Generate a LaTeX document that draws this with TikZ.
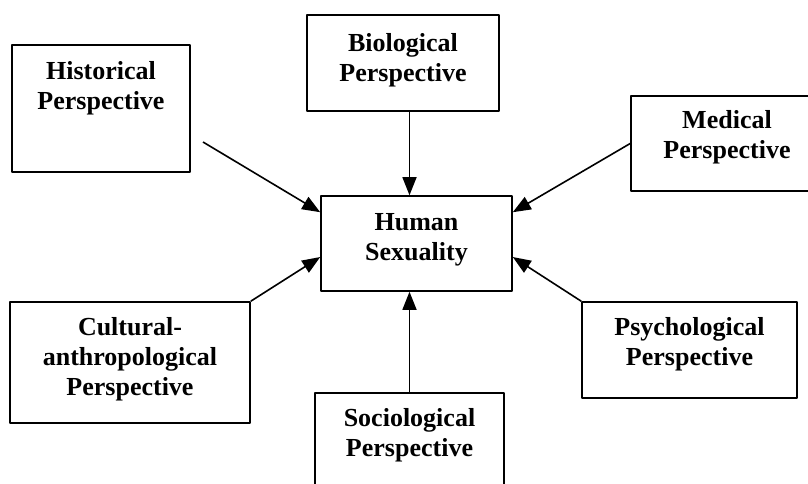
\documentclass[tikz,border=0pt]{standalone}
\usepackage{fontspec}
\setmainfont{Liberation Serif}
\usetikzlibrary{arrows.meta}
\begin{document}
\begin{tikzpicture}[x=1pt,y=-1pt,line join=round,>={Triangle[length=18pt,width=14pt]},
  box/.style={draw,line width=1.6pt,inner sep=0pt},
  txt/.style={inner sep=0pt,align=center,font=\fontsize{26}{30}\selectfont\bfseries},
  arr/.style={->,line width=1.6pt}]
\useasboundingbox (0,0) rectangle (808,484);
\node[box,minimum width=178pt,minimum height=127pt] (hist) at (101,108.5) {};
\node[box,minimum width=192pt,minimum height=96pt] (bio) at (403,63) {};
\node[box,minimum width=192pt,minimum height=95pt] (medical) at (727,143.5) {};
\node[box,minimum width=191pt,minimum height=95pt] (human) at (416.5,243.5) {};
\node[box,minimum width=240pt,minimum height=121pt] (cultural) at (130,362.5) {};
\node[box,minimum width=215pt,minimum height=96pt] (psych) at (689.5,350) {};
\node[box,minimum width=189pt,minimum height=100pt] (socio) at (409.5,443) {};
\node[txt] (histtxt) at (101,88) {Historical\\Perspective};
\node[txt] (biotxt) at (403,60) {Biological\\Perspective};
\node[txt] (medicaltxt) at (727,137) {Medical\\Perspective};
\node[txt] (humantxt) at (416.5,240) {Human\\Sexuality};
\node[txt] (culturaltxt) at (130,359) {Cultural-\\anthropological\\Perspective};
\node[txt] (psychtxt) at (689.5,344) {Psychological\\Perspective};
\node[txt] (sociotxt) at (409.5,435) {Sociological\\Perspective};
\coordinate (histend) at (203,142);
\draw[arr] (histend) -- (human.162);
\draw[arr] (bio.south -| socio.north) -- (human.north -| socio.north);
\draw[arr] (medical.west) -- (human.18);
\draw[arr] (cultural.north east) -- (human.188);
\draw[arr] (psych.north west) -- (human.-8);
\draw[arr] (socio.north) -- (human.south -| socio.north);
\end{tikzpicture}
\end{document}
